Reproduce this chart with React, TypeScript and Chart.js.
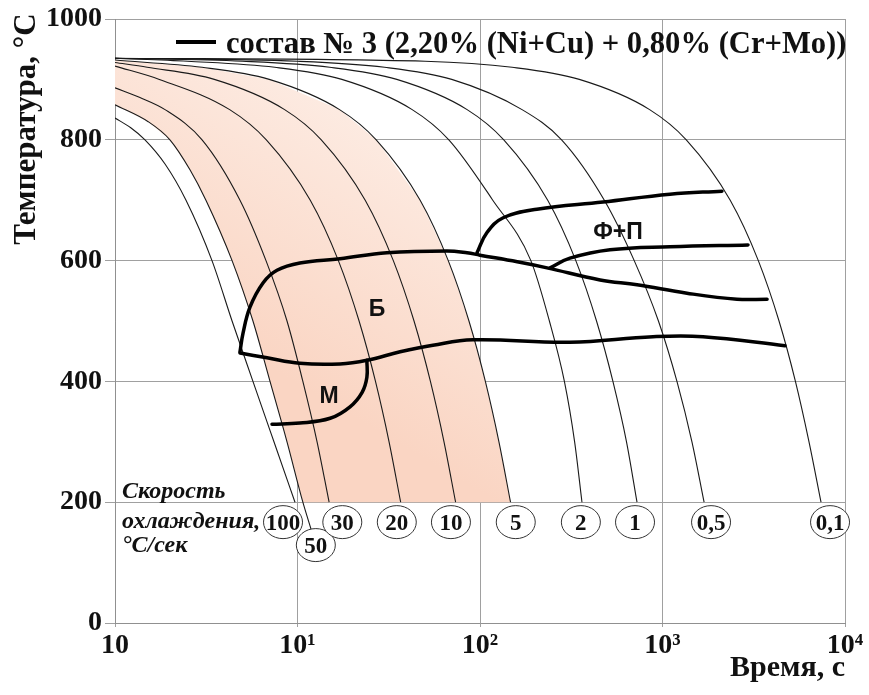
import React, { useEffect, useRef } from 'react';
import { Chart, registerables } from 'chart.js';

Chart.register(...registerables);

// ---- axes ----
const X_TICK_VALUES = [1, 10, 100, 1000, 10000];
const X_TICK_LABELS = ['10', '10¹', '10²', '10³', '10⁴'];
const Y_TICK_LABELS = ['0', '200', '400', '600', '800', '1000'];

// ---- cooling curves: time (s) / temperature (°C) ----
const time100 = [1, 1.22, 1.46, 1.88, 2.45, 3.4, 4.38, 5.7, 7.43, 9.69];
const temp100 = [836, 820, 800, 760, 700, 600, 500, 400, 300, 200];

const time50 = [1, 1.52, 2.0, 2.58, 3.15, 4.38, 5.7, 7.07, 8.76, 10.7, 11.9];
const temp50 = [858, 830, 800, 750, 700, 600, 500, 400, 300, 200, 154];

const time30 = [1, 1.37, 1.88, 3.0, 4.84, 6.72, 8.76, 10.7, 12.8, 14.9];
const temp30 = [886, 870, 850, 800, 700, 600, 500, 400, 300, 200];

const time20 = [1, 1.75, 4.25, 6.75, 11.75, 16.75, 21.75, 26.75, 31.75, 36.75];
const temp20 = [922, 900, 850, 800, 700, 600, 500, 400, 300, 200];

const time10 = [1, 1.5, 3.5, 8.5, 13.5, 23.5, 33.5, 43.5, 53.5, 63.5, 73.5];
const temp10 = [928, 920, 900, 850, 800, 700, 600, 500, 400, 300, 200];

const time5 = [1, 3, 7, 17, 27, 47, 67, 87, 107, 127, 147];
const temp5 = [932, 920, 900, 850, 800, 700, 600, 500, 400, 300, 200];

const time2 = [1, 2.5, 7.5, 17.5, 42.5, 67.5, 117.5, 190, 240, 290, 330, 362];
const temp2 = [935, 930, 920, 900, 850, 800, 700, 600, 500, 400, 300, 200];

const time1 = [1, 5, 15, 35, 85, 135, 235, 335, 435, 535, 635, 725];
const temp1 = [935, 930, 920, 900, 850, 800, 700, 600, 500, 400, 300, 200];

const time05 = [1, 10, 30, 70, 170, 280, 480, 700, 950, 1200, 1450, 1690];
const temp05 = [935, 930, 920, 900, 850, 800, 700, 600, 500, 400, 300, 200];

const time01 = [1, 50, 150, 350, 850, 1350, 2350, 3350, 4350, 5350, 6350, 7390];
const temp01 = [935, 930, 920, 900, 850, 800, 700, 600, 500, 400, 300, 200];

// ---- cooling-rate labels (°C/сек) ----
const rateNames = ['100', '50', '30', '20', '10', '5', '2', '1', '0,5', '0,1'];
const rateLabelTime = [8.33, 12.6, 17.6, 35.0, 69.3, 157, 357, 707, 1845, 8280];
const rateLabelTemp = [167, 129, 167, 167, 167, 167, 167, 167, 167, 167];

// ---- transformation lines ----
const bainiteStartTime = [4.84, 5.03, 5.49, 6.47, 7.72, 10.3, 17.1, 30.9, 65.9, 84.9, 100, 160, 233, 455, 725, 1362, 2560, 3741];
const bainiteStartTemp = [449, 480, 523, 563, 584, 596, 603, 613, 616, 613, 609, 598, 588, 568, 560, 546, 536, 536];

const ferriteUpperTime = [96.3, 109, 134, 205, 472, 1099, 2118];
const ferriteUpperTemp = [613, 646, 671, 685, 697, 710, 715];

const ferriteLowerTime = [242, 311, 516, 1099, 2941];
const ferriteLowerTemp = [588, 604, 618, 623, 626];

const bainiteEndTime = [4.84, 6.81, 10.3, 17.1, 24.0, 36.5, 55.2, 91.5, 311, 887, 1667, 4690];
const bainiteEndTemp = [447, 439, 430, 429, 435, 449, 460, 469, 465, 474, 474, 459];

const martensiteTime = [24.0, 24.0, 22.6, 19.4, 15.1, 10.3, 7.25];
const martensiteTemp = [435, 407, 382, 358, 339, 331, 329];

// ---- region labels ----
const regionNames = ['Б', 'М', 'Ф+П'];
const regionTime = [27.3, 14.9, 570];
const regionTemp = [518, 374, 647];

const pts = (ts: number[], Ts: number[]) => ts.map((t, i) => ({ x: t, y: Ts[i] }));

const coolingCurves = [
  pts(time100, temp100), pts(time50, temp50), pts(time30, temp30), pts(time20, temp20),
  pts(time10, temp10), pts(time5, temp5), pts(time2, temp2), pts(time1, temp1),
  pts(time05, temp05), pts(time01, temp01),
];
const phaseLines = [
  pts(bainiteStartTime, bainiteStartTemp), pts(ferriteUpperTime, ferriteUpperTemp),
  pts(ferriteLowerTime, ferriteLowerTemp), pts(bainiteEndTime, bainiteEndTemp),
  pts(martensiteTime, martensiteTemp),
];
// shaded zone between the 50 and 5 °C/s curves, down to 200 °C
const shadedZone = [
  ...pts(time5, temp5),
  ...pts(time50, temp50).filter((p) => p.y >= 200).reverse(),
];

const SERIF = '"Liberation Serif", "Times New Roman", serif';
const SANS = '"Liberation Sans", Arial, sans-serif';

const annotate = {
  id: 'annotate',
  afterDraw(chart: any) {
    const { ctx, scales } = chart;
    const xs = scales.x;
    const ys = scales.y;
    ctx.save();
    // rate ellipses
    rateNames.forEach((name, i) => {
      const px = xs.getPixelForValue(rateLabelTime[i]);
      const py = ys.getPixelForValue(rateLabelTemp[i]);
      ctx.beginPath();
      ctx.ellipse(px, py, 19.5, 16.5, 0, 0, Math.PI * 2);
      ctx.fillStyle = '#ffffff';
      ctx.fill();
      ctx.lineWidth = 1;
      ctx.strokeStyle = '#333';
      ctx.stroke();
      ctx.fillStyle = '#111';
      ctx.font = 'bold 23px ' + SERIF;
      ctx.textAlign = 'center';
      ctx.textBaseline = 'alphabetic';
      ctx.fillText(name, px, py + 8);
    });
    // region labels
    ctx.font = 'bold 23px ' + SANS;
    ctx.fillStyle = '#111';
    ctx.textAlign = 'center';
    ctx.textBaseline = 'middle';
    regionNames.forEach((name, i) => {
      ctx.fillText(name, xs.getPixelForValue(regionTime[i]), ys.getPixelForValue(regionTemp[i]));
    });
    // legend
    ctx.strokeStyle = '#000';
    ctx.lineWidth = 4;
    ctx.beginPath();
    ctx.moveTo(176, 42);
    ctx.lineTo(216, 42);
    ctx.stroke();
    ctx.font = 'bold 30.6px ' + SERIF;
    ctx.textAlign = 'left';
    ctx.textBaseline = 'alphabetic';
    ctx.fillText('состав № 3 (2,20% (Ni+Cu) + 0,80% (Cr+Mo))', 226, 53);
    // x title
    ctx.font = 'bold 30px ' + SERIF;
    ctx.textAlign = 'right';
    ctx.fillText('Время, с', 845, 676);
    // y title
    ctx.save();
    ctx.translate(35, 129);
    ctx.rotate(-Math.PI / 2);
    ctx.textAlign = 'center';
    ctx.font = 'bold 31px ' + SERIF;
    ctx.fillText('Температура, °C', 0, 0);
    ctx.restore();
    // rate caption
    ctx.font = 'italic bold 24px ' + SERIF;
    ctx.textAlign = 'left';
    ctx.fillText('Скорость', 122, 498);
    ctx.fillText('охлаждения,', 122, 528);
    ctx.fillText('°C/сек', 122, 552);
    ctx.restore();
  },
};

export default function App() {
  const ref = useRef<HTMLCanvasElement | null>(null);
  useEffect(() => {
    document.body.style.margin = '0';
    const canvas = ref.current;
    if (!canvas) return;
    const datasets: any[] = [];
    phaseLines.forEach((d) => {
      datasets.push({ data: d, borderColor: '#000', borderWidth: 3.5, tension: 0.4, pointRadius: 0, fill: false, order: 0, borderCapStyle: 'round' });
    });
    coolingCurves.forEach((d) => {
      datasets.push({ data: d, borderColor: '#1a1a1a', borderWidth: 1.1, cubicInterpolationMode: 'monotone', pointRadius: 0, fill: false, order: 1 });
    });
    datasets.push({
      data: shadedZone,
      borderWidth: 0,
      borderColor: 'rgba(0,0,0,0)',
      pointRadius: 0,
      tension: 0,
      order: 2,
      fill: 'shape',
      backgroundColor: (c: any) => {
        const chart = c.chart;
        const area = chart.chartArea;
        if (!area) return 'rgb(251,222,208)';
        const xs = chart.scales.x;
        const ys = chart.scales.y;
        const g = chart.ctx.createLinearGradient(
          xs.getPixelForValue(60), ys.getPixelForValue(1000),
          xs.getPixelForValue(5), ys.getPixelForValue(450),
        );
        g.addColorStop(0, 'rgb(254,245,240)');
        g.addColorStop(1, 'rgb(250,213,195)');
        return g;
      },
    });
    const tickFont = { family: SERIF, size: 28, weight: 'bold' as const };
    const chart = new Chart(canvas, {
      type: 'line',
      data: { datasets },
      options: {
        animation: false,
        responsive: false,
        events: [],
        layout: { padding: { top: 19, right: 24, left: 0, bottom: 0 } },
        plugins: { legend: { display: false }, tooltip: { enabled: false } },
        scales: {
          x: {
            type: 'logarithmic',
            min: 1,
            max: 10000,
            afterBuildTicks: (s: any) => { s.ticks = X_TICK_VALUES.map((v) => ({ value: v })); },
            afterFit: (s: any) => { s.height = 72; s.paddingLeft = 0; s.paddingRight = 0; },
            ticks: { callback: (_v: any, i: number) => X_TICK_LABELS[i], font: tickFont, color: '#111', padding: 2, maxRotation: 0, autoSkip: false },
            grid: { color: '#a0a0a0', lineWidth: 1, tickLength: 4 },
            border: { color: '#909090', width: 1 },
          },
          y: {
            type: 'linear',
            min: 0,
            max: 1000,
            afterFit: (s: any) => { s.width = 115; s.paddingTop = 0; s.paddingBottom = 0; },
            ticks: { stepSize: 200, callback: (_v: any, i: number) => Y_TICK_LABELS[i], font: tickFont, color: '#111', padding: 3 },
            grid: { color: '#a0a0a0', lineWidth: 1, tickLength: 10 },
            border: { color: '#909090', width: 1 },
          },
        },
      } as any,
      plugins: [annotate],
    });
    return () => chart.destroy();
  }, []);
  return (
    <div style={{ width: 869, height: 695 }}>
      <canvas ref={ref} width={869} height={695} style={{ display: 'block' }} />
    </div>
  );
}
